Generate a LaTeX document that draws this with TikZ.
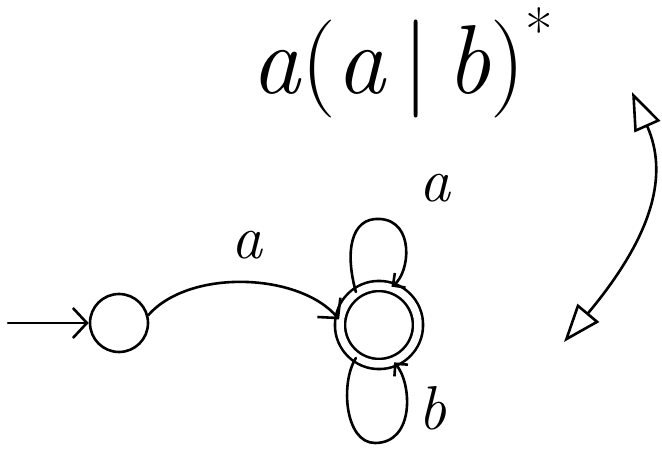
\documentclass[tikz,border=0pt]{standalone}
\usepackage{fontspec}
\usetikzlibrary{arrows.meta}
\tikzset{
  bigbarb/.tip={Straight Barb[length=14pt,width=30pt,line width=2.6pt]},
  smallbarb/.tip={Straight Barb[length=9pt,width=18pt,line width=2.6pt]},
  opentri/.tip={Triangle[open,length=38pt,width=28pt,line width=2.6pt]}
}
\begin{document}
\begin{tikzpicture}[x=1pt,y=1pt,
  ink/.style={line width=2.6pt, line cap=round, line join=round},
  state/.style={ink, draw, circle, inner sep=0pt, minimum size=#1},
  acc/.style={state=#1, double, double distance=7.5pt},
  arr/.style={ink, -bigbarb},
  looparr/.style={ink, -smallbarb},
  tri/.style={ink, opentri-opentri},
  lbl/.style={font=\fontsize{62}{62}\selectfont\itshape, inner sep=0pt}]
\useasboundingbox (0,0) rectangle (662,453);
% title
\node[font=\fontsize{98}{98}\selectfont, inner sep=0pt] (title) at (402,390)
  {\textit{a}(\textit{a}\,|\,\textit{b})\raisebox{0.42em}{\fontsize{60}{60}\selectfont*}};
% states
\node[state=58pt] (q0) at (119,130) {};
\node[acc=78pt] (q1) at (379,128) {};
\coordinate (init) at (8,130);
% initial arrow
\draw[arr] (init) -- (q0.west);
% transition a
\draw[arr] (q0.15) .. controls (190,185) and (300,180) .. (q1.172);
\node[lbl] (la) at (247,208) {a};
% self loop a
\draw[looparr] (q1.125) .. controls (345,200) and (350,236) .. (380,234)
  .. controls (415,232) and (410,180) .. (q1.72);
\node[lbl] (la2) at (435,265) {a};
% self loop b
\draw[looparr] (q1.235) .. controls (340,70) and (345,10) .. (375,10)
  .. controls (415,10) and (412,70) .. (q1.292);
\node[lbl] (lb) at (432,45) {b};
% double-headed arrow
\coordinate (p) at (632,361);
\coordinate (q) at (564,111);
\draw[tri] (p) .. controls (668,280) and (655,220) .. (q);
\end{tikzpicture}
\end{document}
